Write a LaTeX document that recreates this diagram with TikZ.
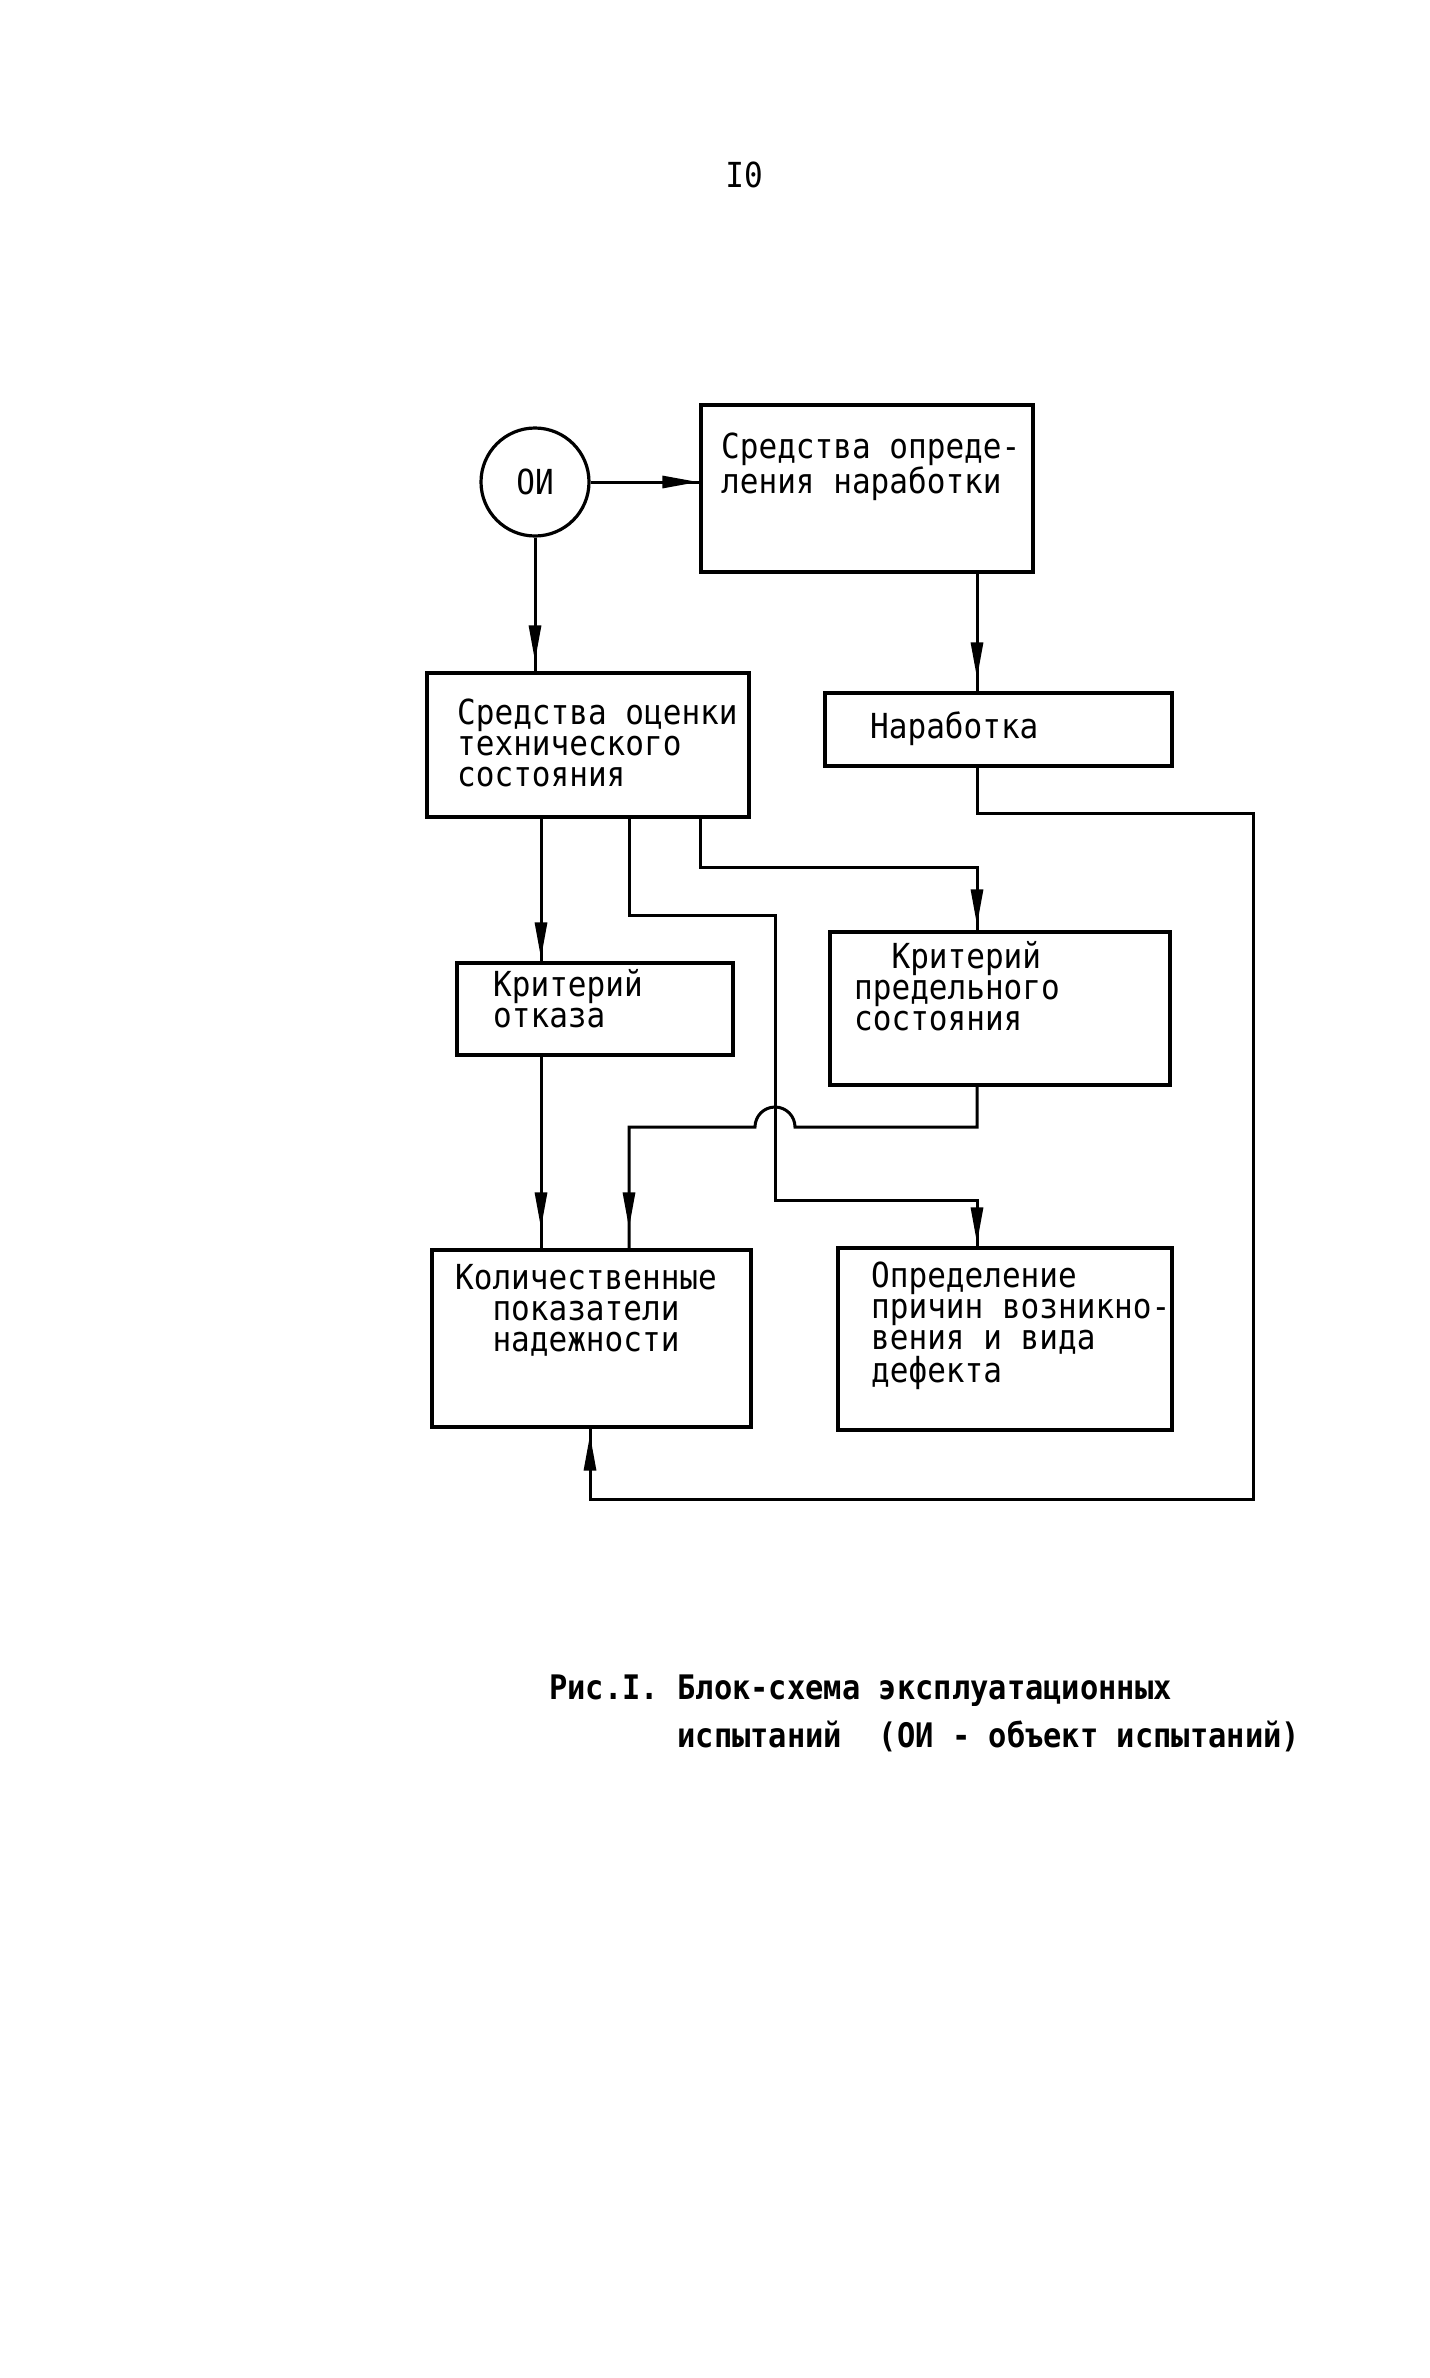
\documentclass[tikz,border=0pt]{standalone}
\usepackage{fontspec}
\usetikzlibrary{arrows.meta,decorations.markings}
\newfontfamily\tw[FakeStretch=0.9]{DejaVu Sans Mono}
\newcommand{\twtext}{\tw\fontsize{34.5}{31}\selectfont}
\newcommand{\twcap}{\tw\bfseries\fontsize{33.8}{48}\selectfont}

\begin{document}
\begin{tikzpicture}[x=1pt,y=-1pt]
\tikzset{every node/.append style={inner sep=0pt},
  blk/.style={draw, line width=3.2pt, rectangle},
  lbl/.style={font=\twtext, align=left, anchor=base west},
  flow/.style={line width=3pt, postaction={decorate},
    decoration={markings, mark=at position -#1 with {\arrow{Triangle[length=36pt,width=12pt]}}}},
  flow/.default=1pt}
\fill [white] (0,0) rectangle (1430,2378);
\useasboundingbox (0,0) rectangle (1430,2378);
\node [font=\twtext] (pg) at (744,175) {I0};
\node [draw, circle, line width=3.2pt, minimum size=108pt, font=\twtext] (oi) at (535,482) {ОИ};
\node [blk, minimum width=332pt, minimum height=167pt] (srn) at (867,488.5) {};
\node [blk, minimum width=347pt, minimum height=73pt] (nar) at (998.5,729.5) {};
\node [blk, minimum width=322pt, minimum height=144pt] (sots) at (588,745) {};
\node [blk, minimum width=276pt, minimum height=92pt] (kotk) at (595,1009) {};
\node [blk, minimum width=340pt, minimum height=153pt] (kps) at (1000,1008.5) {};
\node [blk, minimum width=319pt, minimum height=177pt] (kpn) at (591.5,1338.5) {};
\node [blk, minimum width=334pt, minimum height=182pt] (opr) at (1005,1339) {};
\node [lbl] (srn-t) at (721,493) {Средства опреде-\\ления наработки};
\node [lbl] (nar-t) at (870,738) {Наработка};
\node [lbl] (sots-t) at (457,786) {Средства оценки\\технического\\состояния};
\node [lbl] (kotk-t) at (493,1027) {Критерий\\отказа};
\node [lbl] (kps-t) at (854,1030) {\hphantom{00}Критерий\\предельного\\состояния};
\node [lbl, align=center, anchor=base] (kpn-t) at (586,1351) {Количественные\\показатели\\надежности};
\node [lbl] (opr-t) at (871,1382) {Определение\\причин возникно-\\вения и вида\\дефекта};
\node [font=\twcap, align=left, anchor=base west] (cap) at (549,1747)
  {Рис.I. Блок-схема эксплуатационных\\\hphantom{0000000}испытаний\ \ (ОИ - объект испытаний)};
\coordinate (xR) at (977,0);
\coordinate (xL) at (541,0);
\coordinate (xM) at (629,0);
\coordinate (bE) at (700,867);
\coordinate (bG1) at (629,915);
\coordinate (bG2) at (775,1200);
\coordinate (hmp) at (775,1127);
\coordinate (fbA) at (1253,813);
\coordinate (fbB) at (590,1499);
\draw [flow] (oi.east) -- (oi.east -| srn.west);
\draw [flow=10pt] (oi.south) -- (oi.south |- sots.north);
\draw [flow=13pt] (srn.south -| xR) -- (nar.north -| xR);
\draw [flow=6pt] (nar.south -| xR) |- (fbA) |- (fbB) -- (kpn.south -| fbB);
\draw [flow=3pt] (sots.south -| xL) -- (kotk.north -| xL);
\draw [flow=5pt] (sots.south -| bE) -- (bE) -| (kps.north -| xR);
\draw [flow=3pt] (sots.south -| bG1) -- (bG1) -| (bG2) -| (opr.north -| xR);
\draw [flow=20pt] (kotk.south -| xL) -- (kpn.north -| xL);
\draw [flow=20pt] (kps.south -| xR) |- ([xshift=20pt]hmp) arc[start angle=0, end angle=180, radius=20pt]
  -- (hmp -| xM) -- (kpn.north -| xM);
\end{tikzpicture}
\end{document}
